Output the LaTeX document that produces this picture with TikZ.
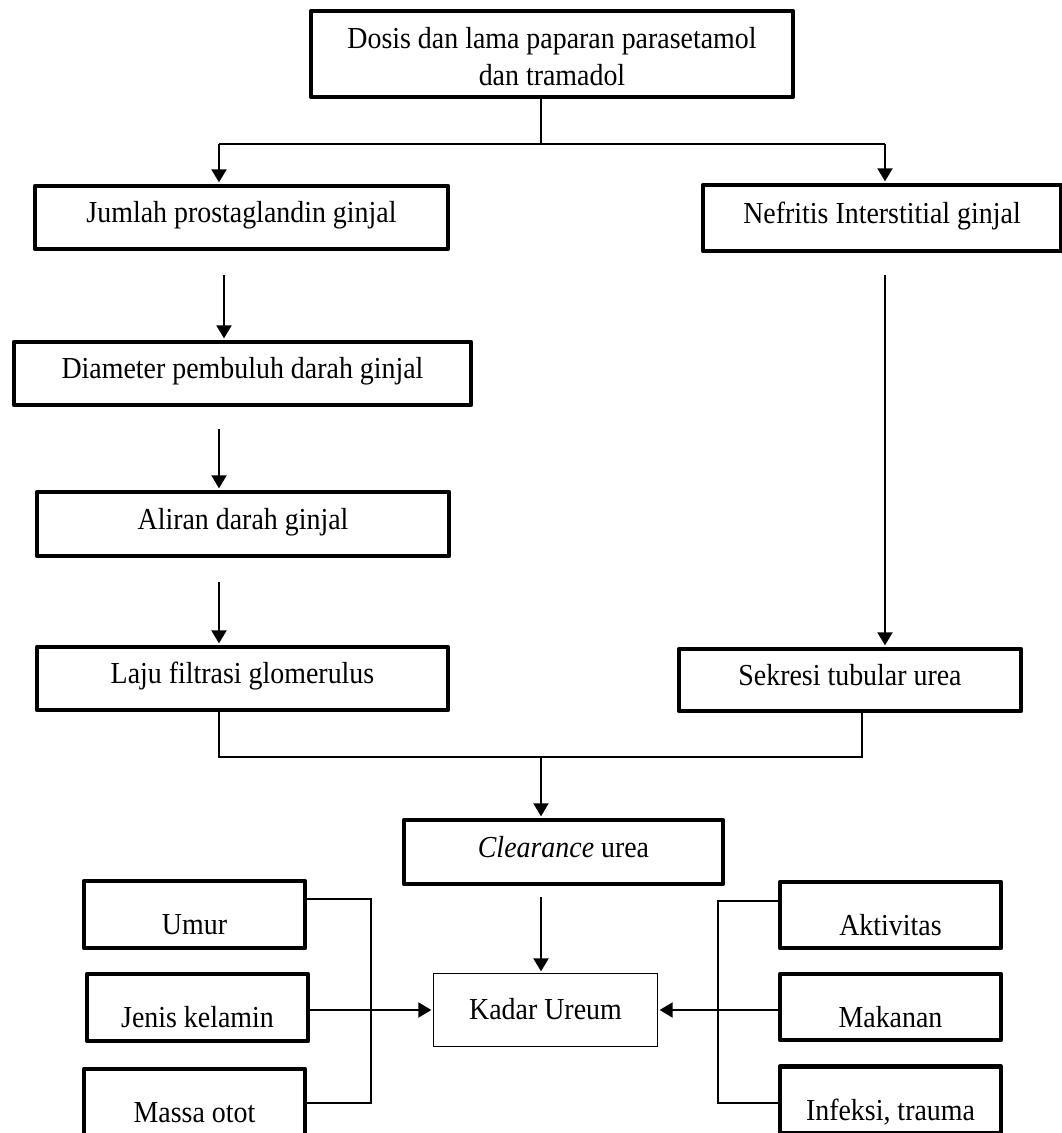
\documentclass[tikz,border=0pt]{standalone}
\usepackage{fontspec}
\setmainfont{Liberation Serif}[FakeStretch=0.915]
\usetikzlibrary{arrows.meta}
\tikzset{
  x=1pt, y=-1pt,
  txt/.style={font=\fontsize{30.5pt}{37pt}\selectfont},
  thickbox/.style={txt, draw, line width=4.3pt, line join=round, inner sep=0pt, text height=18pt, text depth=8pt},
  lowbox/.style={thickbox, text height=46pt, text depth=6pt},
  thinbox/.style={txt, draw, line width=1.3pt, inner sep=0pt, text height=25pt, text depth=6pt},
  conn/.style={line width=1.3pt},
  arr/.style={line width=2pt, -{Triangle[length=13pt,width=15pt]}, shorten >=1.5pt}
}
\begin{document}
\begin{tikzpicture}
\useasboundingbox (0,0) rectangle (1062,1133);
% boxes
\node[thickbox, minimum width=482pt, minimum height=86pt, align=center, text height=62pt, text depth=0pt] (top) at (552,54) {Dosis dan lama paparan parasetamol\\dan tramadol};
\node[thickbox, minimum width=413pt, minimum height=63pt] (jumlah) at (241.5,217.5) {Jumlah prostaglandin ginjal};
\node[thickbox, minimum width=358pt, minimum height=66pt] (nefritis) at (882,218) {Nefritis Interstitial ginjal};
\node[thickbox, minimum width=457pt, minimum height=63pt] (diameter) at (242.5,373.5) {Diameter pembuluh darah ginjal};
\node[thickbox, minimum width=412pt, minimum height=64pt] (aliran) at (243,524) {Aliran darah ginjal};
\node[thickbox, minimum width=411pt, minimum height=63pt] (laju) at (242.5,678.5) {Laju filtrasi glomerulus};
\node[thickbox, minimum width=342pt, minimum height=62pt] (sekresi) at (850,680) {Sekresi tubular urea};
\node[thickbox, minimum width=319pt, minimum height=64pt] (clearance) at (563.5,852) {\textit{Clearance} urea};
\node[thinbox, minimum width=224pt, minimum height=73pt] (kadar) at (545.5,1010) {Kadar Ureum};
\node[lowbox, minimum width=221pt, minimum height=67pt] (umur) at (194.5,914.5) {Umur};
\node[lowbox, minimum width=221pt, minimum height=67pt] (jenis) at (197.5,1007.5) {Jenis kelamin};
\node[lowbox, minimum width=221pt, minimum height=67pt] (massa) at (194.5,1102.5) {Massa otot};
\node[lowbox, minimum width=221pt, minimum height=66pt] (aktivitas) at (890.5,915) {Aktivitas};
\node[lowbox, minimum width=221pt, minimum height=66pt] (makanan) at (890.5,1007) {Makanan};
\node[lowbox, minimum width=221pt, minimum height=67pt] (infeksi) at (890.5,1100) {Infeksi, trauma};
% junction coordinates
\coordinate (jtop) at (541,144);
\coordinate (jl) at (219,144);
\coordinate (jr) at (885,144);
\coordinate (s1) at (224,275);
\coordinate (s2) at (219,429);
\coordinate (s3) at (219,582);
\coordinate (sr) at (885,275);
\coordinate (ml) at (219,757);
\coordinate (mc) at (541,757);
\coordinate (mr) at (862,757);
\coordinate (s4) at (541,897);
\coordinate (lb1) at (371,899);
\coordinate (lb2) at (371,1103);
\coordinate (rb1) at (718,901);
\coordinate (rb2) at (718,1103);
% connectors
\draw[conn] (jtop |- top.south) -- (jtop);
\draw[conn] (jl) -- (jr);
\draw[arr] (jl) -- (jl |- jumlah.north);
\draw[arr] (jr) -- (jr |- nefritis.north);
\draw[arr] (s1) -- (s1 |- diameter.north);
\draw[arr] (s2) -- (s2 |- aliran.north);
\draw[arr] (s3) -- (s3 |- laju.north);
\draw[arr] (sr) -- (sr |- sekresi.north);
\draw[conn] (ml |- laju.south) -- (ml) -- (mr) -- (mr |- sekresi.south);
\draw[arr] (mc) -- (mc |- clearance.north);
\draw[arr] (s4) -- (s4 |- kadar.north);
\draw[conn] (umur.east |- lb1) -- (lb1) -- (lb2) -- (massa.east |- lb2);
\draw[conn] (aktivitas.west |- rb1) -- (rb1) -- (rb2) -- (infeksi.west |- rb2);
\draw[arr] (jenis.east |- kadar.west) -- (kadar.west);
\draw[arr] (makanan.west |- kadar.east) -- (kadar.east);
\end{tikzpicture}
\end{document}
